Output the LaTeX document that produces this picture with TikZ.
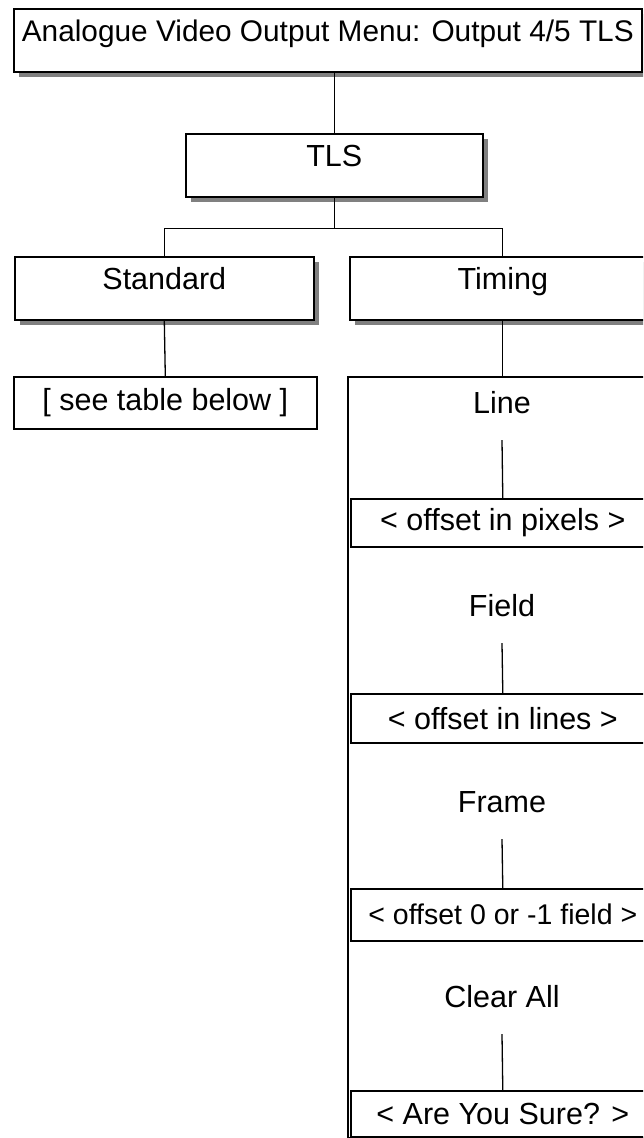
\documentclass[tikz,border=0pt]{standalone}
\usepackage{fontspec}
\setmainfont{Liberation Sans}
\usetikzlibrary{shadows}
\begin{document}
\begin{tikzpicture}[x=1pt,y=-1pt,
  every node/.style={font=\fontsize{30.5}{35}\selectfont, inner sep=0pt},
  shbox/.style={draw, line width=1.6pt, fill=white,
    drop shadow={shadow xshift=5pt, shadow yshift=-5pt, fill=black!50, opacity=1},
    text height=33pt, text depth=30pt, anchor=north west},
  plainbox/.style={draw, line width=1.6pt, fill=white, anchor=north west},
  conn/.style={line width=1.3pt},
  lbl/.style={minimum height=74pt}]
\useasboundingbox (0,0) rectangle (643,1138);
\clip (0,0) rectangle (643,1138);
% top level
\node[shbox, minimum width=628pt, font=\fontsize{29.8}{35}\selectfont] (title) at (13,8) {Analogue Video Output Menu: Output 4/5 TLS};
\node[shbox, minimum width=297pt] (tls) at (185,133) {TLS};
\node[shbox, minimum width=299pt] (std) at (14,256) {Standard};
\node[shbox, minimum width=306pt] (tim) at (349,256) {Timing};
\node[plainbox, minimum width=303pt, minimum height=52pt] (see) at (13,376) {[ see table below ]};
% timing container
\node[plainbox, minimum width=310pt, minimum height=761pt] (outer) at (347,376) {};
\node[lbl] (l1) at (502,403) {Line};
\node[plainbox, minimum width=304pt, minimum height=48pt] (v1) at (350,498) {< offset in pixels >};
\node[lbl] (l2) at (502,606) {Field};
\node[plainbox, minimum width=304pt, minimum height=49pt] (v2) at (350,693) {< offset in lines >};
\node[lbl] (l3) at (502,802) {Frame};
\node[plainbox, minimum width=304pt, minimum height=52pt, font=\fontsize{28.5}{34}\selectfont] (v3) at (350,888) {< offset 0 or -1 field >};
\node[lbl] (l4) at (502,997) {Clear All};
\node[plainbox, minimum width=304pt, minimum height=46pt] (v4) at (350,1090) {< Are You Sure? >};
% connectors
\draw[conn] (title.south -| tls.north) -- (tls.north);
\path (tls.south) ++(0,31) coordinate (j);
\draw[conn] (tls.south) -- (j);
\draw[conn] (std.north) |- (j) -| (tim.north);
\draw[conn] (std.south) -- (see.north);
\draw[conn] (tim.south) -- (outer.north);
\draw[conn] (l1.south) -- (v1.north);
\draw[conn] (l2.south) -- (v2.north);
\draw[conn] (l3.south) -- (v3.north);
\draw[conn] (l4.south) -- (v4.north);
\end{tikzpicture}
\end{document}
